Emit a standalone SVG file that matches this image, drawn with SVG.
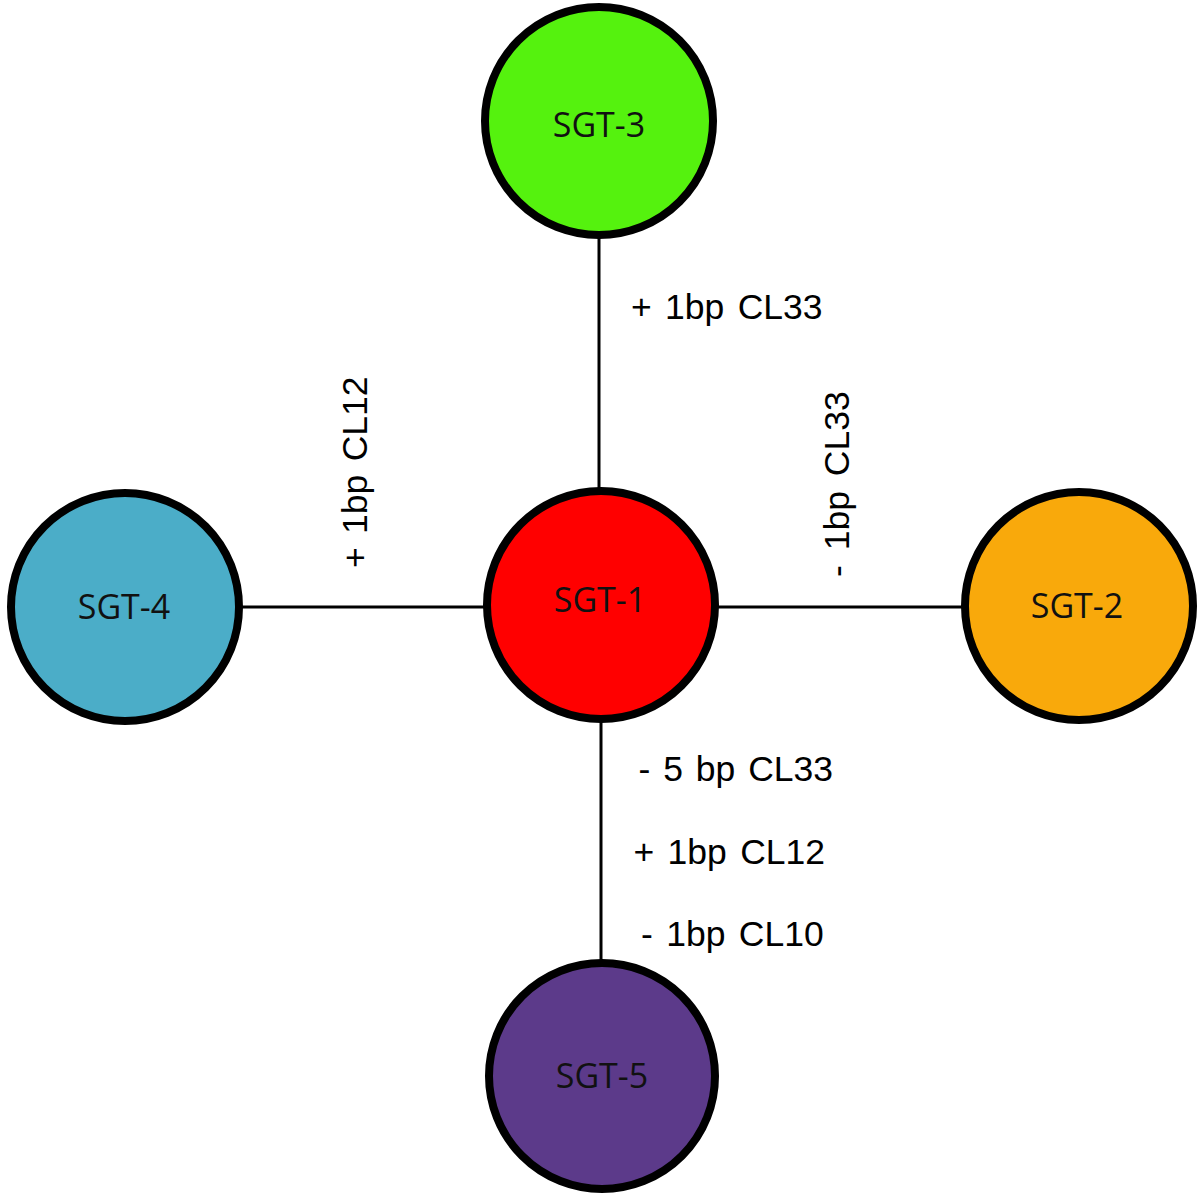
<svg xmlns="http://www.w3.org/2000/svg" width="1200" height="1200" viewBox="0 0 1200 1200">
<style>
.node circle { stroke: #000; stroke-width: 8; }
.node text { font-family: "Open Sans", "Noto Sans", "DejaVu Sans", sans-serif; font-size: 34px; fill: #111; text-anchor: middle; }
.conn line { stroke: #000; stroke-width: 3; }
.lbl { font-family: "Liberation Sans", Arial, sans-serif; font-size: 35.5px; fill: #000; word-spacing: 3.5px; }
</style>
<rect width="1200" height="1200" fill="#fff"/>
<g id="connectors" class="conn">
  <line x1="599" y1="237" x2="599" y2="490"/>
  <line x1="601" y1="720" x2="601" y2="962"/>
  <line x1="241" y1="607" x2="485" y2="607"/>
  <line x1="717" y1="607" x2="964" y2="607"/>
  <text class="lbl" x="631" y="319">+ 1bp CL33</text>
  <text class="lbl" x="638.5" y="781" style="word-spacing:3px">- 5 bp CL33</text>
  <text class="lbl" x="633.5" y="864">+ 1bp CL12</text>
  <text class="lbl" x="641" y="946" style="word-spacing:3.5px">- 1bp CL10</text>
  <text class="lbl" transform="translate(367,568) rotate(-90)">+ 1bp CL12</text>
  <text class="lbl" transform="translate(849,577) rotate(-90)" style="word-spacing:5px">- 1bp CL33</text>
</g>
<g id="SGT-3" class="node">
  <circle cx="599" cy="121" r="114" fill="#55F20E"/>
  <text x="599" y="137">SGT-3</text>
</g>
<g id="SGT-1" class="node">
  <circle cx="601" cy="605" r="114" fill="#FF0000"/>
  <text x="600" y="612">SGT-1</text>
</g>
<g id="SGT-4" class="node">
  <circle cx="125" cy="607" r="114" fill="#4BADC8"/>
  <text x="124" y="619">SGT-4</text>
</g>
<g id="SGT-2" class="node">
  <circle cx="1079" cy="606" r="114" fill="#F9A90B"/>
  <text x="1077" y="618">SGT-2</text>
</g>
<g id="SGT-5" class="node">
  <circle cx="602" cy="1076" r="113" fill="#5C3A8A"/>
  <text x="602" y="1088">SGT-5</text>
</g>
</svg>
